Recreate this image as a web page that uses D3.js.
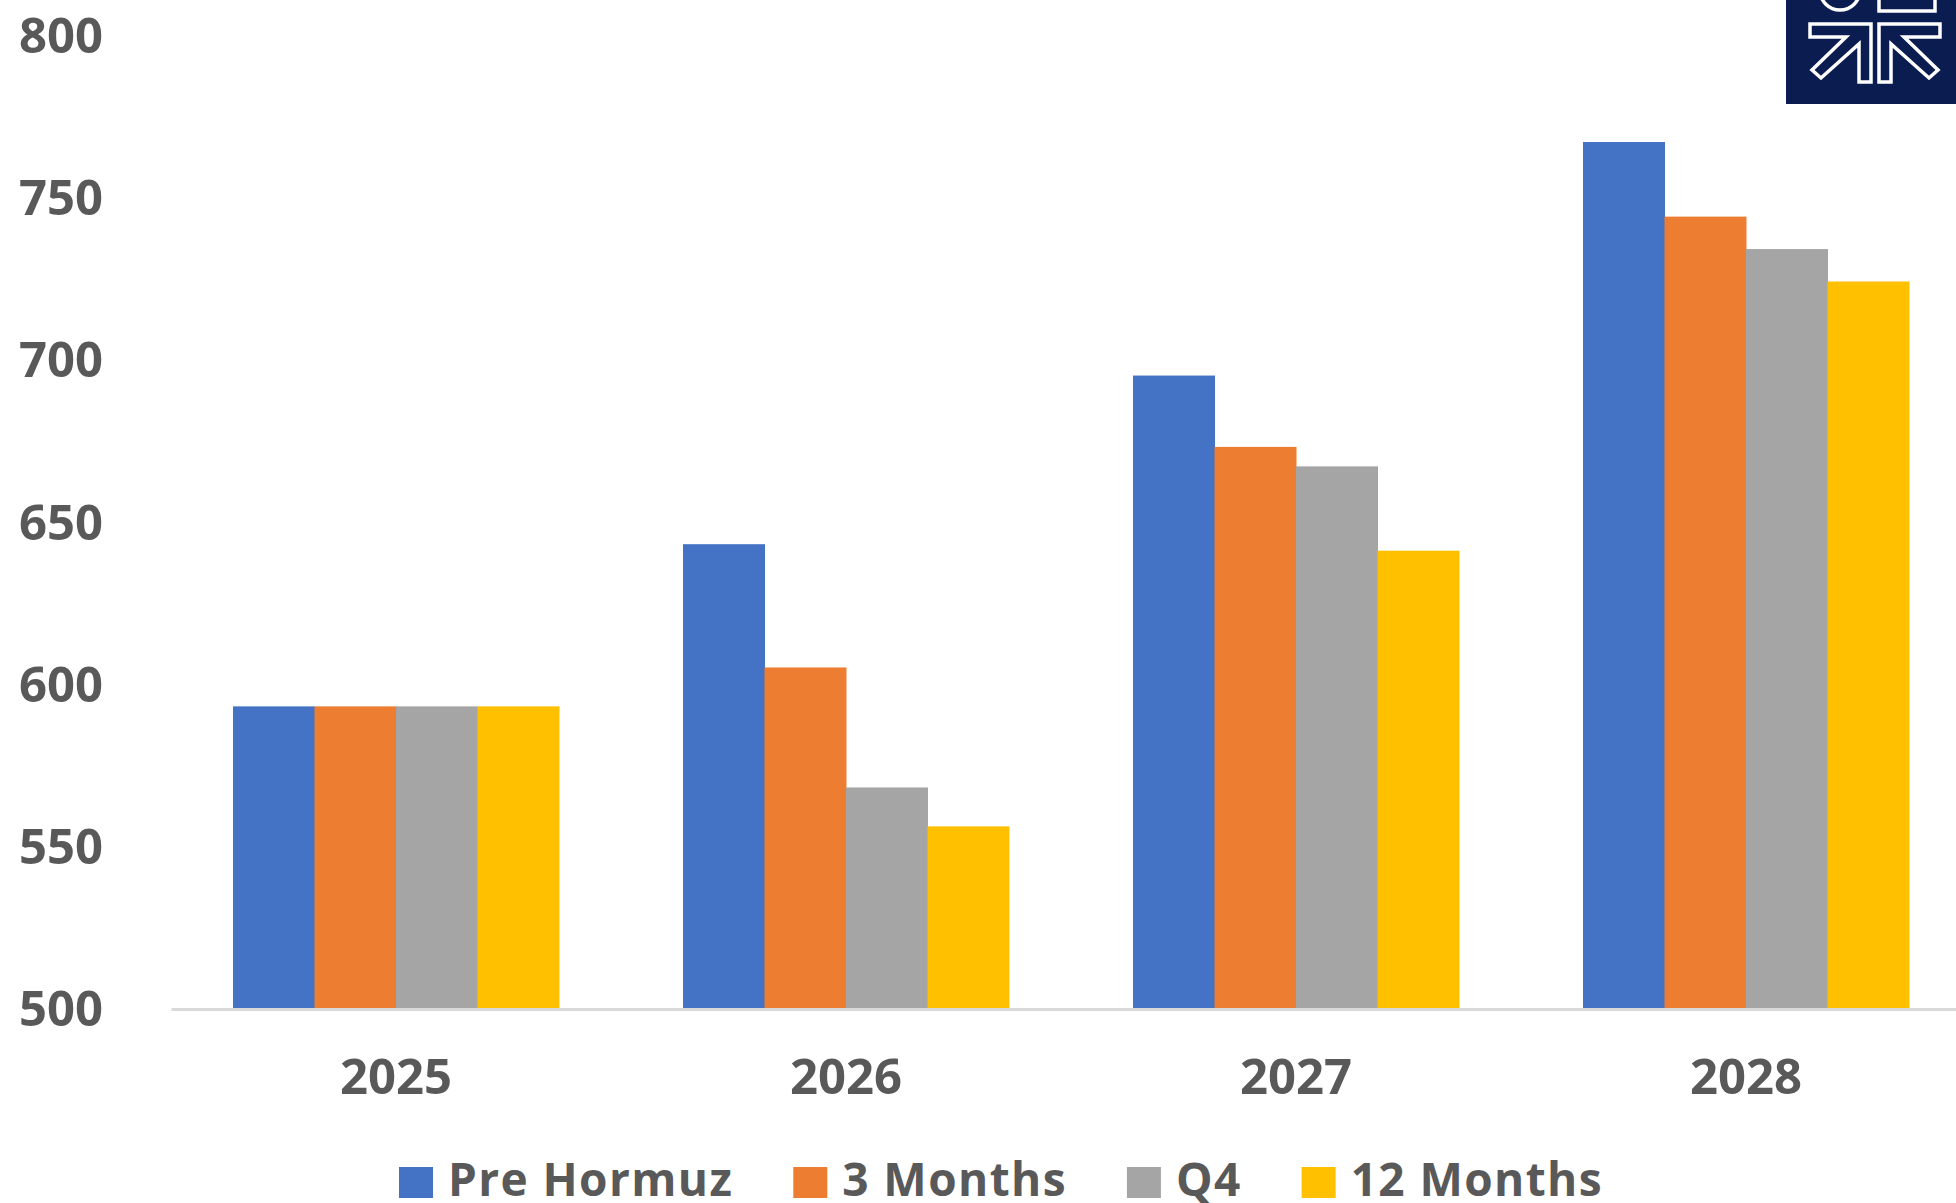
<!DOCTYPE html>
<html>
<head>
<meta charset="utf-8">
<script src="https://cdn.jsdelivr.net/npm/d3@7"></script>
<style>
  body { margin: 0; background: #fff; }
  svg { display: block; }
  text { font-family: "Open Sans", "Noto Sans", sans-serif; font-weight: 700; fill: #595959; }
</style>
</head>
<body>
<div class="chart"></div>
<script>
var svgWidth = 1956;
var svgHeight = 1203;

// data
var years = ["2025", "2026", "2027", "2028"];
var seriesNames = ["Pre Hormuz", "3 Months", "Q4", "12 Months"];
var preHormuz = [593, 643, 695, 767];
var threeMonths = [593, 605, 673, 744];
var q4 = [593, 568, 667, 734];
var twelveMonths = [593, 556, 641, 724];
var yTicks = [500, 550, 600, 650, 700, 750, 800];
var colors = ["#4472C4", "#ED7D31", "#A5A5A5", "#FFC000"];

var seriesValues = [preHormuz, threeMonths, q4, twelveMonths];

var svg = d3.select(".chart")
  .append("svg")
  .attr("width", svgWidth)
  .attr("height", svgHeight);

svg.append("rect")
  .attr("width", svgWidth)
  .attr("height", svgHeight)
  .attr("fill", "#fff");

// scales
var xScale = d3.scaleBand()
  .domain(years)
  .range([171, 1971])
  .paddingInner(0.2756)
  .paddingOuter(0.1378);

var xInner = d3.scaleBand()
  .domain(seriesNames)
  .range([0, xScale.bandwidth()]);

var yScale = d3.scaleLinear()
  .domain([500, 800])
  .range([1008, 35]);

// bars
var groups = svg.selectAll(".year")
  .data(years)
  .enter().append("g")
  .attr("class", "year")
  .attr("transform", function(d) { return "translate(" + xScale(d) + ",0)"; });

groups.selectAll("rect")
  .data(function(d, i) {
    return seriesNames.map(function(s, j) {
      return { name: s, value: seriesValues[j][i], color: colors[j] };
    });
  })
  .enter().append("rect")
  .attr("x", function(d) { return xInner(d.name); })
  .attr("y", function(d) { return yScale(d.value); })
  .attr("width", xInner.bandwidth() + 0.5)
  .attr("height", function(d) { return yScale(500) - yScale(d.value); })
  .attr("fill", function(d) { return d.color; });

// x axis
var xAxis = svg.append("g")
  .attr("transform", "translate(0," + 1009 + ")")
  .call(d3.axisBottom(xScale).tickSize(0).tickSizeOuter(0));

xAxis.select(".domain")
  .attr("stroke", "#d9d9d9")
  .attr("stroke-width", 3);

xAxis.selectAll("text")
  .attr("y", 85)
  .attr("dy", 0)
  .style("font-size", "49px")
  .attr("font-family", null)
  .attr("fill", null);

// y axis
var yAxis = svg.append("g")
  .attr("transform", "translate(103,0)")
  .call(d3.axisLeft(yScale).tickValues(yTicks).tickSize(0).tickPadding(0));

yAxis.select(".domain").remove();
yAxis.selectAll("text")
  .attr("dy", "0.36em")
  .style("font-size", "49px")
  .attr("font-family", null)
  .attr("fill", null);

// legend
var legend = svg.append("g")
  .attr("transform", "translate(399,0)");

var items = legend.selectAll(".item")
  .data(seriesNames)
  .enter().append("g")
  .attr("class", "item");

items.append("rect")
  .attr("y", 1167)
  .attr("width", 34)
  .attr("height", 31)
  .attr("fill", function(d, i) { return colors[i]; });

items.append("text")
  .attr("x", 49)
  .attr("y", 1196)
  .style("font-size", "46px")
  .style("letter-spacing", "1.4px")
  .text(function(d) { return d; });

var cursor = 0;
items.each(function() {
  var w = d3.select(this).select("text").node().getComputedTextLength();
  d3.select(this).attr("transform", "translate(" + cursor + ",0)");
  cursor += 49 + w + 60;
});

// logo in the top right corner
var logo = svg.append("g");
logo.append("rect")
  .attr("x", 1786)
  .attr("y", 0)
  .attr("width", 170)
  .attr("height", 104)
  .attr("fill", "#0b1c50");

var logoStroke = { stroke: "#fff", width: 3.5 };

logo.append("circle")
  .attr("cx", 1840)
  .attr("cy", -10)
  .attr("r", 20)
  .attr("fill", "none")
  .attr("stroke", logoStroke.stroke)
  .attr("stroke-width", logoStroke.width);

logo.append("rect")
  .attr("x", 1879)
  .attr("y", -5)
  .attr("width", 56)
  .attr("height", 16)
  .attr("fill", "none")
  .attr("stroke", logoStroke.stroke)
  .attr("stroke-width", logoStroke.width);

var leftArm = [[1810, 24], [1871, 24], [1871, 82], [1859, 82], [1859, 44], [1821, 78], [1812, 70], [1846, 37], [1810, 37]];
var rightArm = leftArm.map(function(p) { return [3750 - p[0], p[1]]; });

logo.selectAll(".arm")
  .data([leftArm, rightArm])
  .enter().append("path")
  .attr("class", "arm")
  .attr("d", function(d) { return d3.line()(d) + "Z"; })
  .attr("fill", "none")
  .attr("stroke", logoStroke.stroke)
  .attr("stroke-width", logoStroke.width)
  .attr("stroke-linejoin", "miter");
</script>
</body>
</html>
